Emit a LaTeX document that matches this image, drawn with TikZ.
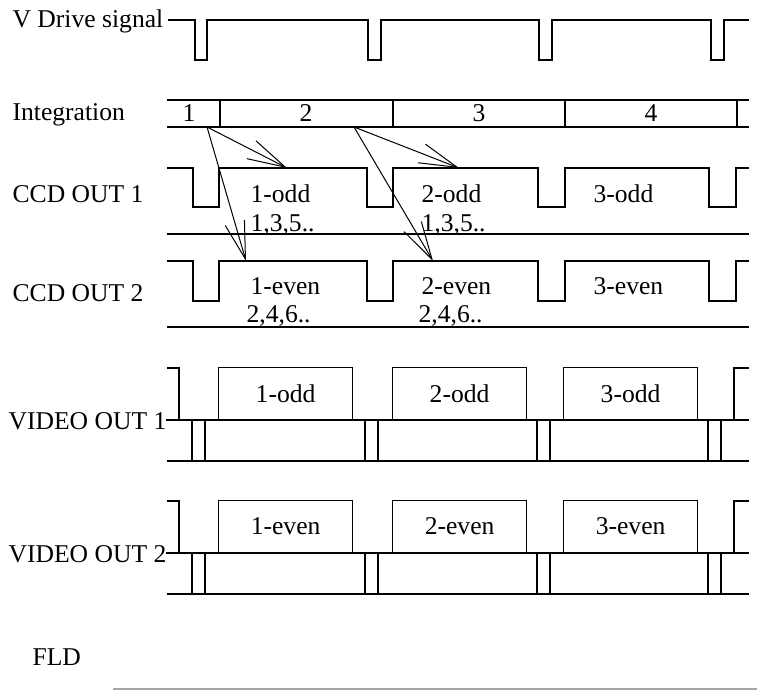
\documentclass[tikz,border=0pt]{standalone}
\usepackage{fontspec}
\setmainfont{Liberation Serif}
\usetikzlibrary{arrows.meta}

\tikzset{every node/.style={inner sep=0pt, font=\fontsize{12.8}{15}\selectfont}}
\tikzstyle{rowlabel}=[anchor=base west]
\tikzstyle{celltext}=[anchor=base west]
\tikzstyle{readout}=[line width=0.5pt, -{Straight Barb[length=19pt,width=10pt]}]
\tikzstyle{vbox}=[draw, minimum width=67pt, minimum height=26pt, anchor=south west]

\begin{document}
\begin{tikzpicture}[x=0.5pt, y=-0.5pt, line width=0.6pt]
\useasboundingbox (0,0) rectangle (757,699);

\node [rowlabel] (vdrive) at (12,28) {V Drive signal};
\node [rowlabel] (integ) at (12,121) {Integration};
\node [rowlabel] (ccd1) at (12,203) {CCD OUT 1};
\node [rowlabel] (ccd2) at (12,302) {CCD OUT 2};
\node [rowlabel] (vid1) at (8,430) {VIDEO OUT 1};
\node [rowlabel] (vid2) at (8,563) {VIDEO OUT 2};
\node [rowlabel] (fld) at (32,666) {FLD};

\draw (168,20) foreach \a/\b in {195/207, 368/381, 539/552, 711/724} {
        -- (\a,20) -- (\a,60) -- (\b,60) -- (\b,20)
    } -- (749,20);

\draw (167,100) -- (749,100) (167,127) -- (749,127);
\foreach \x in {220,393,565,737}
    \draw (\x,100) -- (\x,127);
\node [anchor=base] (int1) at (189,122) {1};
\node [anchor=base] (int2) at (306,122) {2};
\node [anchor=base] (int3) at (479,122) {3};
\node [anchor=base] (int4) at (651,122) {4};

\foreach \yh/\yl/\yb in {168/207/234, 261/301/327} {
    \draw (167,\yh) foreach \a/\b in {193/219, 367/393, 538/565, 709/736} {
            -- (\a,\yh) -- (\a,\yl) -- (\b,\yl) -- (\b,\yh)
        } -- (749,\yh);
    \draw (167,\yb) -- (749,\yb);
}

\node [celltext] (odd1) at (250,203) {1-odd};
\node [celltext] (odd1l) at (250,232) {1,3,5..};
\node [celltext] (odd2) at (421,203) {2-odd};
\node [celltext] (odd2l) at (421,232) {1,3,5..};
\node [celltext] (odd3) at (593,203) {3-odd};
\node [celltext] (even1) at (250,295) {1-even};
\node [celltext] (even1l) at (246,323) {2,4,6..};
\node [celltext] (even2) at (421,295) {2-even};
\node [celltext] (even2l) at (418,323) {2,4,6..};
\node [celltext] (even3) at (593,295) {3-even};

\coordinate (from1) at (207,127);
\coordinate (from2) at (354,127);
\coordinate (to1o) at (287,168);
\coordinate (to1e) at (246,261);
\coordinate (to2o) at (459,168);
\coordinate (to2e) at (433,261);
\draw [readout] (from1) -- (to1o);
\draw [readout] (from1) -- (to1e);
\draw [readout] (from2) -- (to2o);
\draw [readout] (from2) -- (to2e);

\foreach \ym/\n/\p in {420/1/odd, 553/2/even} {
    \draw (167,\ym-52) -- (179,\ym-52) -- (179,\ym);
    \draw (166,\ym) -- (749,\ym);
    \draw (167,\ym+41) -- (749,\ym+41);
    \foreach \a/\b in {192/205, 365/378, 537/550, 708/721}
        \draw (\a,\ym) -- (\a,\ym+41) (\b,\ym) -- (\b,\ym+41);
    \foreach \x/\k in {218/1, 392/2, 563/3}
        \node [vbox] (v\n\k) at (\x,\ym) {\k-\p};
    \draw (734,\ym) -- (734,\ym-52) -- (749,\ym-52);
}

\draw [gray!70, line width=0.8pt] (113,689) -- (757,689);
\end{tikzpicture}
\end{document}
